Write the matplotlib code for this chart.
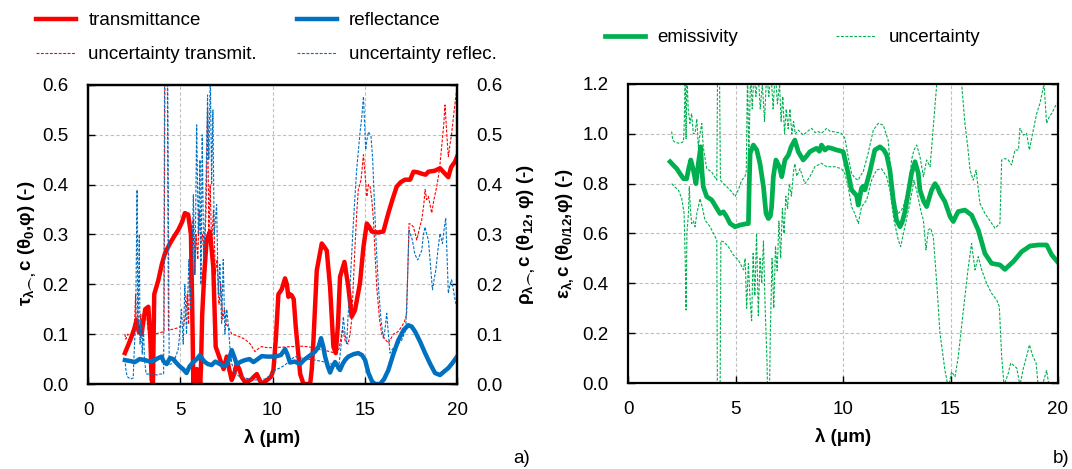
import matplotlib
matplotlib.use("Agg")
import matplotlib.pyplot as plt
from matplotlib.ticker import MultipleLocator, FormatStrFormatter

plt.rcParams['font.family'] = ['Liberation Sans', 'DejaVu Sans']
plt.rcParams['mathtext.fontset'] = 'custom'
plt.rcParams['mathtext.rm'] = 'Liberation Sans'
plt.rcParams['mathtext.it'] = 'Liberation Sans'
plt.rcParams['mathtext.bf'] = 'Liberation Sans:bold'
plt.rcParams['mathtext.default'] = 'bf'
plt.rcParams['mathtext.fallback'] = 'stixsans'

# ---- a) spectral transmittance / reflectance (wavelength in um, value) ----
tau = [(2.0, 0.062), (2.2, 0.08), (2.36, 0.095), (2.5, 0.11), (2.63, 0.128), (2.75, 0.105),
       (2.9, 0.1), (3.1, 0.15), (3.27, 0.155), (3.38, 0.09), (3.45, 0.008), (3.52, 0.0),
       (3.59, 0.18), (3.81, 0.208), (4.0, 0.24), (4.17, 0.262), (4.44, 0.282), (4.7, 0.298),
       (4.89, 0.309), (5.1, 0.325), (5.25, 0.343), (5.43, 0.34), (5.58, 0.30), (5.65, 0.15),
       (5.71, 0.0), (5.78, 0.02), (5.84, 0.0), (5.9, 0.03), (5.96, 0.0), (6.02, 0.025),
       (6.08, 0.0), (6.12, 0.03), (6.19, 0.14), (6.3, 0.22), (6.43, 0.289), (6.61, 0.306),
       (6.79, 0.235), (6.92, 0.075), (7.06, 0.06), (7.2, 0.045), (7.35, 0.03), (7.52, 0.055),
       (7.65, 0.03), (7.79, 0.008), (7.92, 0.02), (8.06, 0.04), (8.2, 0.03), (8.33, 0.014),
       (8.51, 0.004), (8.7, 0.006), (8.88, 0.01), (9.0, 0.015), (9.15, 0.02), (9.3, 0.008),
       (9.42, 0.0), (9.6, 0.005), (9.78, 0.01), (9.92, 0.015), (10.05, 0.028), (10.18, 0.09),
       (10.32, 0.18), (10.5, 0.19), (10.68, 0.212), (10.78, 0.2), (10.86, 0.175), (10.95, 0.18),
       (11.04, 0.178), (11.15, 0.17), (11.26, 0.115), (11.4, 0.06), (11.5, 0.02), (11.68, 0.0),
       (11.85, 0.0), (12.04, 0.0), (12.13, 0.03), (12.22, 0.088), (12.4, 0.228), (12.67, 0.282),
       (12.94, 0.268), (13.12, 0.195), (13.3, 0.075), (13.43, 0.062), (13.55, 0.12), (13.66, 0.215),
       (13.9, 0.245), (14.11, 0.195), (14.29, 0.135), (14.47, 0.148), (14.74, 0.202), (14.93, 0.275),
       (15.11, 0.322), (15.25, 0.315), (15.38, 0.306), (15.7, 0.304), (16.01, 0.306), (16.28, 0.343),
       (16.5, 0.37), (16.73, 0.396), (16.95, 0.405), (17.18, 0.41), (17.46, 0.41), (17.64, 0.426),
       (17.85, 0.425), (18.09, 0.422), (18.3, 0.42), (18.45, 0.426), (18.8, 0.428), (19.08, 0.433),
       (19.35, 0.422), (19.53, 0.415), (19.68, 0.435), (19.89, 0.446), (20.0, 0.456)]

tau_unc = [(2.0, 0.1), (2.05, 0.09), (2.15, 0.1), (2.3, 0.095), (2.42, 0.11), (2.5, 0.1),
           (2.58, 0.18), (2.62, 0.11), (2.7, 0.13), (2.78, 0.1), (2.86, 0.14), (2.95, 0.11),
           (3.05, 0.13), (3.15, 0.15), (3.25, 0.11), (3.4, 0.1), (3.6, 0.1), (3.8, 0.102),
           (4.0, 0.104), (4.12, 0.105), (4.17, 0.62), (4.3, 0.62), (4.36, 0.108), (4.6, 0.11),
           (4.8, 0.112), (5.0, 0.115), (5.1, 0.118), (5.2, 0.12), (5.3, 0.14), (5.38, 0.18),
           (5.45, 0.12), (5.55, 0.3), (5.62, 0.2), (5.7, 0.33), (5.78, 0.22), (5.86, 0.3),
           (5.95, 0.25), (6.03, 0.35), (6.1, 0.28), (6.2, 0.3), (6.3, 0.25), (6.4, 0.35),
           (6.48, 0.55), (6.55, 0.3), (6.62, 0.4), (6.7, 0.28), (6.8, 0.35), (6.9, 0.22),
           (7.0, 0.25), (7.1, 0.16), (7.2, 0.2), (7.3, 0.13), (7.4, 0.15), (7.5, 0.12),
           (7.6, 0.115), (7.8, 0.1), (8.0, 0.098), (8.2, 0.095), (8.5, 0.09), (8.8, 0.08),
           (9.05, 0.065), (9.2, 0.07), (9.4, 0.075), (9.7, 0.073), (10.1, 0.073), (10.6, 0.074),
           (11.0, 0.075), (11.5, 0.076), (11.9, 0.075), (12.3, 0.072), (12.7, 0.068), (13.0, 0.066),
           (13.4, 0.062), (13.6, 0.07), (13.8, 0.11), (13.95, 0.085), (14.1, 0.08), (14.2, 0.1),
           (14.29, 0.128), (14.38, 0.2), (14.47, 0.275), (14.56, 0.34), (14.65, 0.39), (14.8, 0.41),
           (14.93, 0.46), (15.02, 0.42), (15.11, 0.376), (15.2, 0.4), (15.29, 0.396), (15.38, 0.37),
           (15.47, 0.33), (15.56, 0.26), (15.65, 0.195), (15.8, 0.13), (15.92, 0.1), (16.1, 0.09),
           (16.28, 0.082), (16.4, 0.09), (16.55, 0.1), (16.8, 0.105), (17.0, 0.115), (17.15, 0.125),
           (17.27, 0.14), (17.4, 0.322), (17.52, 0.32), (17.64, 0.315), (17.82, 0.289), (17.95, 0.31),
           (18.09, 0.33), (18.2, 0.36), (18.27, 0.39), (18.36, 0.37), (18.45, 0.376), (18.63, 0.343),
           (18.75, 0.37), (18.9, 0.396), (19.05, 0.43), (19.17, 0.477), (19.28, 0.52), (19.35, 0.56),
           (19.45, 0.5), (19.53, 0.456), (19.62, 0.48), (19.71, 0.503), (19.85, 0.55), (20.0, 0.596)]

rho = [(2.0, 0.048), (2.3, 0.046), (2.54, 0.044), (2.8, 0.05), (3.09, 0.048), (3.35, 0.045),
       (3.63, 0.048), (3.8, 0.052), (3.99, 0.055), (4.1, 0.045), (4.26, 0.04), (4.45, 0.052),
       (4.62, 0.05), (4.8, 0.042), (4.98, 0.035), (5.15, 0.03), (5.34, 0.022), (5.5, 0.035),
       (5.71, 0.044), (5.9, 0.05), (6.07, 0.058), (6.2, 0.05), (6.34, 0.044), (6.5, 0.04),
       (6.7, 0.038), (6.9, 0.045), (7.15, 0.04), (7.35, 0.036), (7.51, 0.038), (7.65, 0.05),
       (7.79, 0.068), (7.92, 0.055), (8.06, 0.04), (8.3, 0.045), (8.51, 0.048), (8.75, 0.05),
       (8.97, 0.044), (9.2, 0.05), (9.42, 0.056), (9.7, 0.055), (10.14, 0.055), (10.45, 0.058),
       (10.68, 0.07), (10.8, 0.06), (10.95, 0.043), (11.2, 0.045), (11.5, 0.04), (11.7, 0.048),
       (11.95, 0.055), (12.31, 0.065), (12.5, 0.075), (12.63, 0.092), (12.75, 0.075), (12.85, 0.055),
       (13.0, 0.035), (13.12, 0.023), (13.25, 0.035), (13.39, 0.044), (13.55, 0.035), (13.66, 0.028),
       (13.8, 0.04), (13.93, 0.048), (14.11, 0.055), (14.4, 0.06), (14.65, 0.062), (14.85, 0.058),
       (15.02, 0.048), (15.2, 0.022), (15.4, 0.005), (15.56, 0.0), (15.83, 0.0), (16.05, 0.01),
       (16.28, 0.028), (16.55, 0.06), (16.82, 0.088), (17.1, 0.108), (17.36, 0.118), (17.55, 0.115),
       (17.73, 0.105), (18.0, 0.085), (18.27, 0.062), (18.55, 0.04), (18.81, 0.022), (19.08, 0.018),
       (19.3, 0.025), (19.53, 0.032), (19.75, 0.042), (20.0, 0.055)]

rho_unc = [(2.0, 0.05), (2.05, 0.03), (2.12, 0.015), (2.3, 0.01), (2.45, 0.012), (2.52, 0.08),
           (2.58, 0.12), (2.62, 0.25), (2.66, 0.39), (2.7, 0.1), (2.74, 0.2), (2.78, 0.3),
           (2.82, 0.08), (2.88, 0.13), (2.94, 0.06), (3.0, 0.12), (3.06, 0.05), (3.15, 0.02),
           (3.3, 0.02), (3.5, 0.02), (3.7, 0.018), (3.9, 0.02), (4.1, 0.02), (4.15, 0.62),
           (4.32, 0.62), (4.4, 0.04), (4.5, 0.04), (4.65, 0.045), (4.8, 0.06), (4.89, 0.07),
           (4.97, 0.1), (5.07, 0.15), (5.16, 0.08), (5.25, 0.2), (5.34, 0.1), (5.47, 0.25),
           (5.58, 0.15), (5.71, 0.38), (5.8, 0.22), (5.89, 0.52), (5.98, 0.3), (6.07, 0.45),
           (6.12, 0.2), (6.19, 0.5), (6.27, 0.25), (6.37, 0.35), (6.48, 0.58), (6.55, 0.45),
           (6.63, 0.62), (6.7, 0.4), (6.77, 0.55), (6.84, 0.3), (6.97, 0.36), (7.06, 0.18),
           (7.15, 0.24), (7.24, 0.12), (7.33, 0.25), (7.42, 0.1), (7.52, 0.15), (7.6, 0.12),
           (7.7, 0.07), (7.8, 0.04), (7.97, 0.022), (8.2, 0.015), (8.51, 0.012), (9.06, 0.008),
           (9.6, 0.01), (9.9, 0.018), (10.14, 0.028), (10.4, 0.032), (10.68, 0.038), (10.95, 0.048),
           (11.22, 0.055), (11.5, 0.053), (11.77, 0.05), (12.31, 0.048), (12.85, 0.044), (13.2, 0.04),
           (13.39, 0.04), (13.5, 0.03), (13.57, 0.028), (13.7, 0.07), (13.84, 0.135), (13.93, 0.1),
           (14.02, 0.08), (14.1, 0.14), (14.2, 0.195), (14.38, 0.322), (14.56, 0.43), (14.74, 0.503),
           (14.85, 0.54), (14.93, 0.577), (15.05, 0.47), (15.12, 0.49), (15.2, 0.506), (15.34, 0.497),
           (15.43, 0.45), (15.52, 0.37), (15.62, 0.28), (15.74, 0.195), (15.88, 0.13), (16.01, 0.092),
           (16.1, 0.11), (16.19, 0.142), (16.28, 0.1), (16.37, 0.062), (16.5, 0.07), (16.64, 0.075),
           (16.8, 0.08), (17.0, 0.088), (17.22, 0.108), (17.31, 0.2), (17.4, 0.309), (17.58, 0.289),
           (17.72, 0.26), (17.87, 0.249), (18.0, 0.26), (18.09, 0.268), (18.18, 0.3), (18.27, 0.315),
           (18.36, 0.3), (18.45, 0.289), (18.56, 0.24), (18.67, 0.189), (18.76, 0.21), (18.85, 0.228),
           (18.97, 0.27), (19.08, 0.302), (19.21, 0.282), (19.3, 0.31), (19.39, 0.333), (19.46, 0.26),
           (19.53, 0.182), (19.62, 0.2), (19.71, 0.209), (19.82, 0.185), (19.93, 0.162), (20.0, 0.16)]

# ---- b) spectral emissivity with its uncertainty band ----
eps = [(1.96, 0.888), (2.1, 0.875), (2.27, 0.86), (2.42, 0.84), (2.58, 0.82), (2.73, 0.82),
       (2.82, 0.86), (2.92, 0.895), (3.04, 0.855), (3.16, 0.8), (3.27, 0.88), (3.38, 0.948),
       (3.44, 0.85), (3.5, 0.788), (3.66, 0.748), (3.89, 0.735), (4.0, 0.72), (4.13, 0.701),
       (4.28, 0.68), (4.44, 0.687), (4.59, 0.667), (4.75, 0.64), (4.98, 0.627), (5.21, 0.634),
       (5.44, 0.638), (5.6, 0.64), (5.64, 0.8), (5.68, 0.922), (5.83, 0.955), (5.99, 0.935),
       (6.14, 0.88), (6.3, 0.788), (6.42, 0.68), (6.53, 0.66), (6.62, 0.67), (6.68, 0.707),
       (6.76, 0.828), (6.88, 0.895), (7.04, 0.868), (7.15, 0.828), (7.3, 0.895), (7.46, 0.915),
       (7.6, 0.95), (7.76, 0.975), (7.92, 0.928), (8.15, 0.895), (8.3, 0.91), (8.46, 0.928),
       (8.6, 0.935), (8.77, 0.942), (8.9, 0.93), (9.0, 0.955), (9.16, 0.935), (9.3, 0.945),
       (9.47, 0.942), (9.7, 0.935), (9.86, 0.932), (10.01, 0.928), (10.24, 0.842), (10.4, 0.775),
       (10.55, 0.76), (10.63, 0.754), (10.71, 0.714), (10.86, 0.782), (10.94, 0.79), (11.02, 0.775),
       (11.25, 0.848), (11.48, 0.935), (11.72, 0.948), (11.9, 0.935), (12.03, 0.915), (12.18, 0.855),
       (12.34, 0.735), (12.49, 0.654), (12.65, 0.627), (12.75, 0.645), (12.88, 0.687), (13.03, 0.761),
       (13.19, 0.842), (13.35, 0.888), (13.5, 0.842), (13.58, 0.774), (13.75, 0.73), (13.89, 0.708),
       (14.0, 0.74), (14.12, 0.774), (14.28, 0.8), (14.4, 0.785), (14.51, 0.761), (14.74, 0.728),
       (14.98, 0.668), (15.13, 0.648), (15.25, 0.67), (15.36, 0.688), (15.67, 0.694), (15.98, 0.674),
       (16.29, 0.614), (16.6, 0.52), (16.91, 0.48), (17.3, 0.474), (17.53, 0.456), (17.92, 0.487),
       (18.31, 0.527), (18.7, 0.55), (19.09, 0.554), (19.47, 0.554), (19.71, 0.514), (19.97, 0.487)]

eps_hi = [(2.03, 1.009), (2.08, 0.975), (2.2, 0.965), (2.42, 0.962), (2.58, 0.969), (2.62, 1.05),
          (2.66, 1.25), (2.7, 0.98), (2.74, 1.25), (2.8, 1.1), (2.88, 1.042), (2.96, 1.082),
          (3.04, 1.0), (3.12, 1.002), (3.2, 1.06), (3.27, 0.95), (3.35, 1.0), (3.43, 1.042),
          (3.5, 0.948), (3.66, 0.86), (3.89, 0.847), (4.13, 0.814), (4.17, 1.3), (4.25, 1.3),
          (4.3, 0.814), (4.44, 0.8), (4.59, 0.788), (4.82, 0.768), (4.98, 0.748), (5.13, 0.775),
          (5.29, 0.814), (5.44, 0.828), (5.5, 0.85), (5.56, 1.25), (5.62, 0.9), (5.7, 1.25),
          (5.78, 1.1), (5.86, 1.25), (5.95, 1.15), (6.05, 1.25), (6.15, 1.1), (6.25, 1.2),
          (6.35, 1.05), (6.45, 1.25), (6.55, 1.15), (6.65, 1.25), (6.75, 1.1), (6.85, 1.25),
          (6.95, 1.12), (7.05, 1.2), (7.12, 1.05), (7.2, 1.15), (7.28, 1.0), (7.36, 1.1),
          (7.45, 1.02), (7.53, 1.1), (7.62, 1.0), (7.7, 1.05), (7.78, 1.0), (7.92, 1.015),
          (8.15, 0.995), (8.35, 1.01), (8.54, 1.022), (8.7, 1.005), (8.85, 1.009), (9.0, 1.002),
          (9.24, 1.022), (9.4, 1.01), (9.55, 1.009), (9.93, 1.002), (10.09, 0.982), (10.24, 0.908),
          (10.4, 0.842), (10.55, 0.822), (10.71, 0.814), (10.8, 0.83), (10.94, 0.848), (11.17, 0.922),
          (11.41, 1.015), (11.64, 1.042), (11.87, 1.035), (12.1, 0.975), (12.26, 0.814), (12.41, 0.72),
          (12.55, 0.68), (12.7, 0.69), (12.8, 0.707), (13.03, 0.775), (13.2, 0.9), (13.3, 0.935),
          (13.43, 0.955), (13.58, 0.908), (13.74, 0.828), (13.89, 0.895), (14.05, 0.868), (14.2, 1.029),
          (14.36, 1.2), (14.6, 1.45), (14.9, 1.55), (15.3, 1.4), (15.52, 1.2), (15.67, 1.042),
          (15.8, 0.95), (15.91, 0.854), (16.06, 0.814), (16.19, 0.854), (16.37, 0.721), (16.6, 0.681),
          (16.91, 0.641), (17.07, 0.621), (17.3, 0.641), (17.38, 0.895), (17.53, 0.901), (17.69, 0.895),
          (17.84, 0.875), (18.0, 0.935), (18.16, 0.935), (18.23, 1.022), (18.39, 0.995), (18.54, 1.002),
          (18.67, 0.935), (18.85, 1.015), (19.01, 1.082), (19.16, 1.122), (19.35, 1.2), (19.47, 1.042),
          (19.6, 1.07), (19.71, 1.082), (19.94, 1.122)]

eps_lo = [(2.03, 0.8), (2.2, 0.785), (2.34, 0.775), (2.5, 0.741), (2.61, 0.68), (2.66, 0.5),
          (2.7, 0.293), (2.74, 0.6), (2.81, 0.68), (2.85, 0.788), (2.9, 0.7), (2.96, 0.64),
          (3.04, 0.65), (3.12, 0.627), (3.2, 0.68), (3.27, 0.707), (3.35, 0.74), (3.47, 0.7),
          (3.58, 0.654), (3.82, 0.627), (4.05, 0.587), (4.13, 0.574), (4.16, -0.1), (4.28, -0.1),
          (4.32, 0.57), (4.44, 0.567), (4.67, 0.547), (4.9, 0.514), (5.13, 0.494), (5.37, 0.454),
          (5.45, 0.5), (5.52, 0.3), (5.6, 0.48), (5.68, 0.33), (5.75, 0.25), (5.82, 0.52),
          (5.9, 0.35), (5.98, 0.6), (6.06, 0.27), (6.14, 0.5), (6.22, 0.4), (6.3, 0.57),
          (6.38, 0.3), (6.46, 0.1), (6.5, -0.05), (6.58, -0.05), (6.62, 0.2), (6.7, 0.5),
          (6.78, 0.3), (6.86, 0.55), (6.94, 0.45), (7.02, 0.65), (7.1, 0.5), (7.18, 0.7),
          (7.26, 0.6), (7.34, 0.75), (7.42, 0.7), (7.5, 0.8), (7.6, 0.75), (7.7, 0.85),
          (7.76, 0.88), (7.85, 0.83), (8.0, 0.86), (8.23, 0.8), (8.46, 0.828), (8.69, 0.868),
          (9.0, 0.882), (9.24, 0.868), (9.62, 0.868), (9.93, 0.86), (10.09, 0.84), (10.24, 0.788),
          (10.4, 0.707), (10.55, 0.68), (10.71, 0.64), (10.86, 0.707), (11.1, 0.734), (11.33, 0.814),
          (11.56, 0.855), (11.79, 0.86), (12.03, 0.828), (12.18, 0.775), (12.37, 0.654), (12.57, 0.574),
          (12.68, 0.547), (12.88, 0.627), (13.11, 0.721), (13.3, 0.814), (13.42, 0.775), (13.65, 0.68),
          (13.74, 0.654), (13.86, 0.534), (13.97, 0.614), (14.08, 0.621), (14.2, 0.587), (14.36, 0.4),
          (14.51, 0.2), (14.74, 0.052), (14.9, -0.02), (15.05, 0.045), (15.21, 0.025), (15.36, 0.106),
          (15.6, 0.293), (15.83, 0.467), (15.98, 0.56), (16.14, 0.454), (16.29, 0.507), (16.45, 0.454),
          (16.68, 0.4), (16.91, 0.36), (17.15, 0.333), (17.27, 0.307), (17.38, 0.106), (17.49, -0.01),
          (17.69, 0.04), (17.8, 0.08), (17.92, 0.072), (18.08, 0.06), (18.23, -0.01), (18.39, 0.06),
          (18.54, 0.106), (18.67, 0.153), (18.82, 0.11), (18.98, 0.08), (19.09, -0.02), (19.24, -0.02),
          (19.4, 0.03), (19.47, 0.05), (19.6, -0.02), (19.94, -0.08)]

x_ticks = [0, 5, 10, 15, 20]

RED, BLUE, GREEN = '#FF0000', '#0070C0', '#00B050'
FS = 13.5
DASH = (0, (2.6, 1.4))


def xy(points):
    return [p[0] for p in points], [p[1] for p in points]


def style_axes(ax, ymax, ystep):
    ax.set_xlim(0, 20)
    ax.set_ylim(0, ymax)
    ax.set_xticks(x_ticks)
    ax.yaxis.set_major_locator(MultipleLocator(ystep))
    ax.yaxis.set_major_formatter(FormatStrFormatter('%.1f'))
    ax.grid(True, color='#BFBFBF', linestyle=(0, (3, 2)), linewidth=0.8)
    ax.set_axisbelow(True)
    ax.tick_params(direction='in', length=5, width=1, labelsize=FS, color='black')
    ax.tick_params(axis='y', pad=14)
    ax.tick_params(axis='x', pad=13)
    for s in ax.spines.values():
        s.set_linewidth(1.6)
        s.set_color('black')


fig = plt.figure(figsize=(10.72, 4.69), dpi=100)

# ---------------- panel a ----------------
ax1 = fig.add_axes([88 / 1072, 1 - 384 / 469, 369 / 1072, 299 / 469])
style_axes(ax1, 0.6, 0.1)
ax2 = ax1.twinx()
ax2.set_ylim(0, 0.6)
ax2.yaxis.set_major_locator(MultipleLocator(0.1))
ax2.yaxis.set_major_formatter(FormatStrFormatter('%.1f'))
ax2.tick_params(direction='in', length=5, width=1, labelsize=FS, pad=14)
for s in ax2.spines.values():
    s.set_linewidth(1.6)

h_tu, = ax1.plot(*xy(tau_unc), color=RED, lw=0.8, ls=DASH, label='uncertainty transmit.')
h_t, = ax1.plot(*xy(tau), color=RED, lw=3.2, label='transmittance', solid_joinstyle='round')
h_ru, = ax2.plot(*xy(rho_unc), color=BLUE, lw=0.8, ls=DASH, label='uncertainty reflec.')
h_r, = ax2.plot(*xy(rho), color=BLUE, lw=3.2, label='reflectance', solid_joinstyle='round')

ax1.set_ylabel('τ$_{λ⌢,}$c (θ$_0$,φ) (-)', fontsize=FS, fontweight='bold')
ax1.yaxis.set_label_coords(-0.135, 0.47)
ax2.set_ylabel('ρ$_{λ⌢,}$c (θ$_{12}$, φ) (-)', fontsize=FS, fontweight='bold')
ax2.yaxis.set_label_coords(1.157, 0.5)
ax1.set_xlabel('λ (μm)', fontsize=FS, fontweight='bold')
ax1.xaxis.set_label_coords(0.5, -0.15)

fig.legend(handles=[h_t, h_tu, h_r, h_ru], ncol=2, loc='upper left',
           bbox_to_anchor=(36 / 1072, 1 - 12 / 469), frameon=False, fontsize=FS,
           handlelength=2.15, handletextpad=0.65, columnspacing=2.1,
           labelspacing=0.9, borderpad=0, borderaxespad=0)

# ---------------- panel b ----------------
ax3 = fig.add_axes([628 / 1072, 1 - 383 / 469, 430 / 1072, 299 / 469])
style_axes(ax3, 1.2, 0.2)
ax3.tick_params(axis='y', right=True)

h_eh, = ax3.plot(*xy(eps_hi), color=GREEN, lw=0.8, ls=DASH, label='uncertainty')
ax3.plot(*xy(eps_lo), color=GREEN, lw=0.8, ls=DASH)
h_e, = ax3.plot(*xy(eps), color=GREEN, lw=3.4, label='emissivity', solid_joinstyle='round')

ax3.set_ylabel('ε$_{λ,}$c (θ$_{0/12}$,φ) (-)', fontsize=FS, fontweight='bold')
ax3.yaxis.set_label_coords(-0.121, 0.5)
ax3.set_xlabel('λ (μm)', fontsize=FS, fontweight='bold')
ax3.xaxis.set_label_coords(0.5, -0.15)

fig.legend(handles=[h_e, h_eh], ncol=2, loc='upper left',
           bbox_to_anchor=(605 / 1072, 1 - 29 / 469), frameon=False, fontsize=FS,
           handlelength=2.15, handletextpad=0.65, columnspacing=5.2,
           borderpad=0, borderaxespad=0)

fig.text(522 / 1072, 1 - 458 / 469, 'a)', fontsize=FS, ha='center', va='center')
fig.text(1061 / 1072, 1 - 458 / 469, 'b)', fontsize=FS, ha='center', va='center')

fig.savefig('out.png', dpi=100)
